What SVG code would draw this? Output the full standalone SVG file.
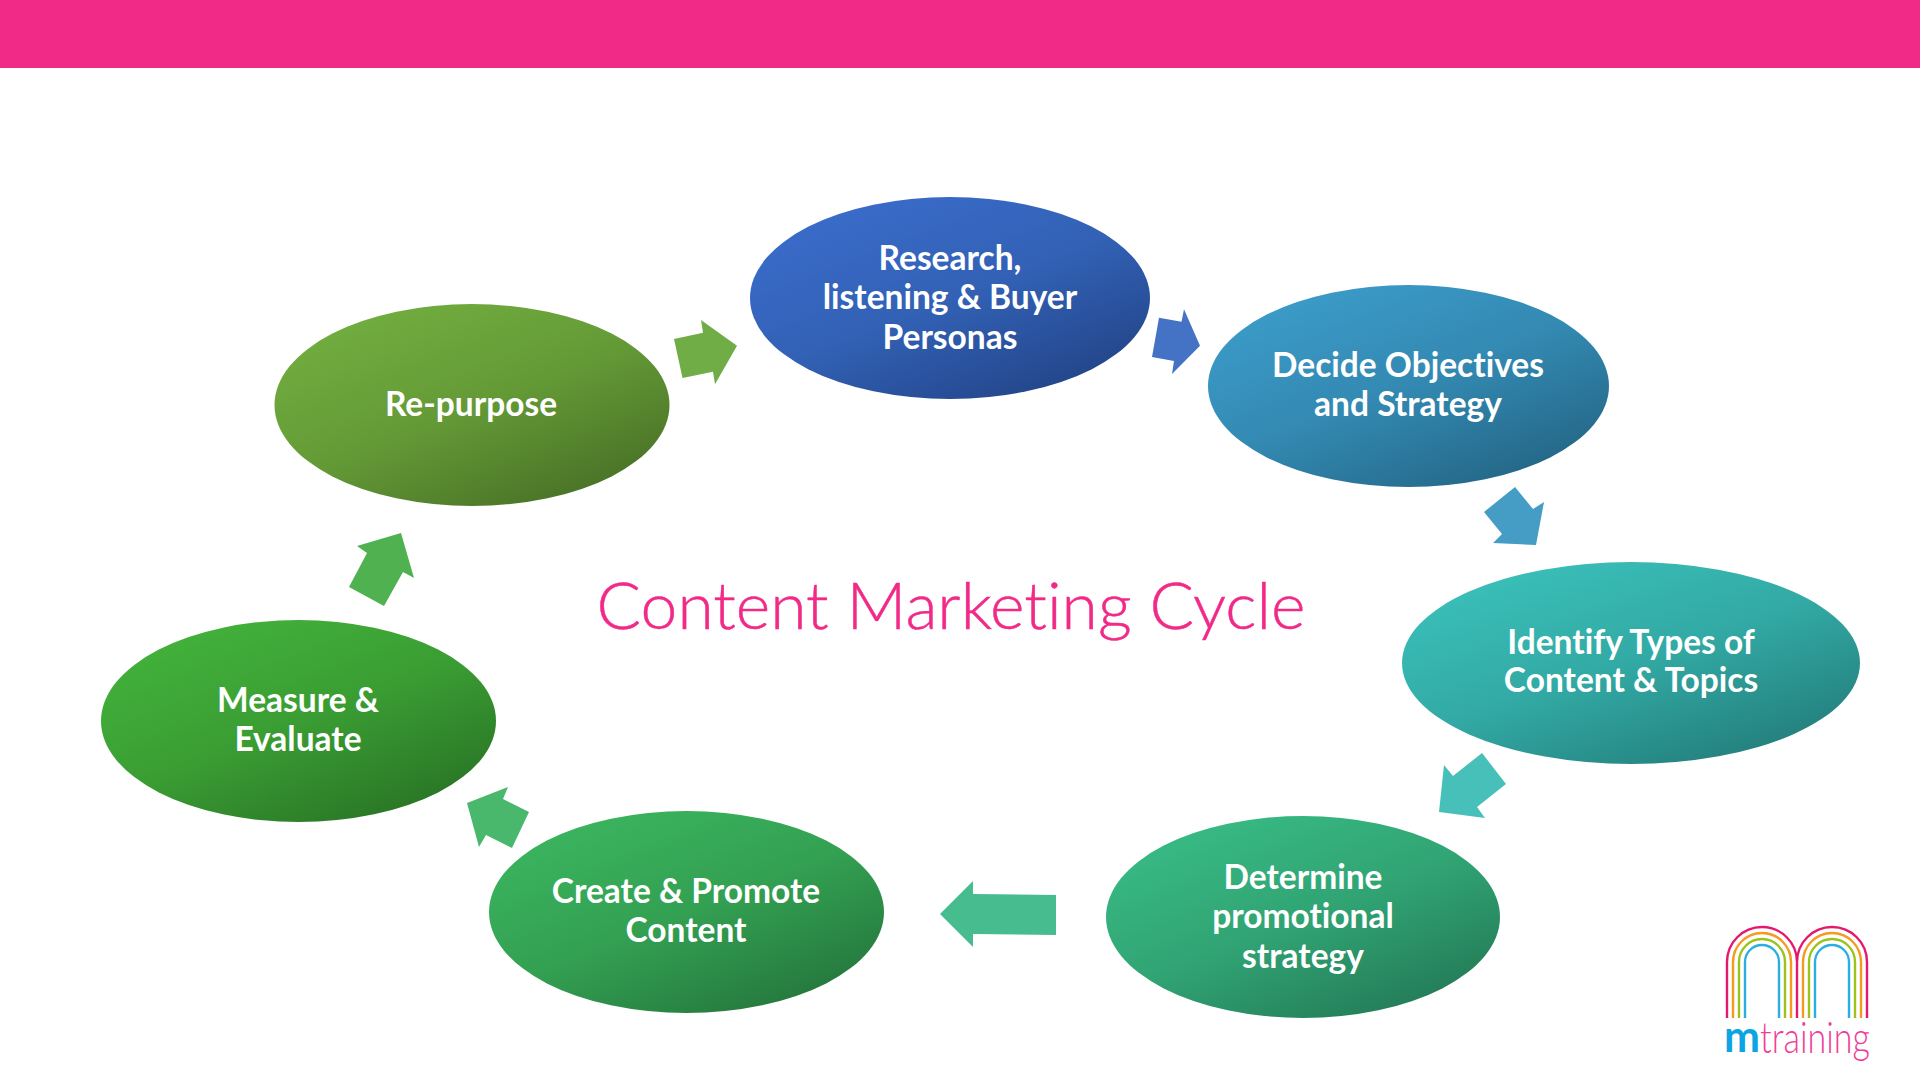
<svg xmlns="http://www.w3.org/2000/svg" width="1920" height="1080" viewBox="0 0 1920 1080">
<style>
.l{font-family:Lato,"Liberation Sans",sans-serif;font-weight:700;font-size:33.500px;fill:#fff;text-anchor:middle;font-variant-ligatures:none}
.a{fill:none;stroke-width:2.4}
</style>
<defs>
<linearGradient id="g1" x1="0.15" y1="0.05" x2="0.85" y2="0.95"><stop offset="0" stop-color="#3a6ccb"/><stop offset="0.5" stop-color="#3261b5"/><stop offset="1" stop-color="#224487"/></linearGradient>
<linearGradient id="g2" x1="0.15" y1="0.05" x2="0.85" y2="0.95"><stop offset="0" stop-color="#3c9cc9"/><stop offset="0.5" stop-color="#3389b2"/><stop offset="1" stop-color="#236584"/></linearGradient>
<linearGradient id="g3" x1="0.15" y1="0.05" x2="0.85" y2="0.95"><stop offset="0" stop-color="#3bc0ba"/><stop offset="0.5" stop-color="#32a9a4"/><stop offset="1" stop-color="#237d7a"/></linearGradient>
<linearGradient id="g4" x1="0.15" y1="0.05" x2="0.85" y2="0.95"><stop offset="0" stop-color="#38bb84"/><stop offset="0.5" stop-color="#31a474"/><stop offset="1" stop-color="#237a56"/></linearGradient>
<linearGradient id="g5" x1="0.15" y1="0.05" x2="0.85" y2="0.95"><stop offset="0" stop-color="#3bb55f"/><stop offset="0.5" stop-color="#33a052"/><stop offset="1" stop-color="#24763c"/></linearGradient>
<linearGradient id="g6" x1="0.15" y1="0.05" x2="0.85" y2="0.95"><stop offset="0" stop-color="#43b23b"/><stop offset="0.5" stop-color="#3a9d33"/><stop offset="1" stop-color="#297325"/></linearGradient>
<linearGradient id="g7" x1="0.15" y1="0.05" x2="0.85" y2="0.95"><stop offset="0" stop-color="#72ae40"/><stop offset="0.5" stop-color="#649a36"/><stop offset="1" stop-color="#487026"/></linearGradient>
</defs>
<rect id="banner" width="1920" height="68" fill="#f12a87"/>
<g id="connectors">
<polygon fill="#71ad47" points="674,339 703,332.700 701,320 737,345.700 715,384.300 713,371.700 682.500,378"/>
<polygon fill="#4472c4" points="1159,317.700 1181.500,321.700 1184,309.300 1200,345.700 1172,374 1174,361 1152,357"/>
<polygon fill="#459cc4" points="1515,487 1533,509 1544,502 1536,545 1493,543 1502,534 1484,512"/>
<polygon fill="#47c0ba" points="1482,753 1506,784 1477,807 1485,818 1439,812 1444,765 1453,776"/>
<polygon fill="#46bc8f" points="940,914 973,881 973,894 1056,895 1056,935 973,934 973,947"/>
<polygon fill="#49b86d" points="467,803 508,787 503,799 529,812 512,848 486,835 479,847"/>
<polygon fill="#4fb14f" points="357,546 401,533 414,578 403,572 384,606 349,587 367,553"/>
</g>
<g id="n1"><ellipse cx="950" cy="298" rx="200" ry="101" fill="url(#g1)"/>
<text class="l" x="950" y="270">Research,</text><text class="l" x="950" y="309">listening &amp; Buyer</text><text class="l" x="950" y="349">Personas</text></g>
<g id="n2"><ellipse cx="1408.500" cy="386" rx="200.500" ry="101" fill="url(#g2)"/>
<text class="l" x="1408" y="377">Decide Objectives</text><text class="l" x="1408" y="416">and Strategy</text></g>
<g id="n3"><ellipse cx="1631" cy="663" rx="229" ry="101" fill="url(#g3)"/>
<text class="l" x="1631" y="654">Identify Types of</text><text class="l" x="1631" y="692">Content &amp; Topics</text></g>
<g id="n4"><ellipse cx="1303" cy="917" rx="197" ry="101" fill="url(#g4)"/>
<text class="l" x="1303" y="889">Determine</text><text class="l" x="1303" y="928">promotional</text><text class="l" x="1303" y="968">strategy</text></g>
<g id="n5"><ellipse cx="686.500" cy="912" rx="197.500" ry="101" fill="url(#g5)"/>
<text class="l" x="686" y="903">Create &amp; Promote</text><text class="l" x="686" y="942">Content</text></g>
<g id="n6"><ellipse cx="298.500" cy="721" rx="197.500" ry="101" fill="url(#g6)"/>
<text class="l" x="298" y="712">Measure &amp;</text><text class="l" x="298" y="751">Evaluate</text></g>
<g id="n7"><ellipse cx="472" cy="405" rx="197.500" ry="101" fill="url(#g7)"/>
<text class="l" x="471" y="416">Re-purpose</text></g>
<text id="title" x="951" y="629" font-family="Lato,'Liberation Sans',sans-serif" font-weight="300" font-size="66" fill="#f12a87" stroke="#f12a87" stroke-width="0.5" text-anchor="middle" style="font-variant-ligatures:none">Content Marketing Cycle</text>
<g id="logo">
<path class="a" stroke="#e5186f" d="M1727 1018V962a35 35 0 0 1 70 0V1018M1797 1018V962a35 35 0 0 1 70 0V1018"/>
<path class="a" stroke="#f59a1e" d="M1733 1018V962a29 29 0 0 1 58 0V1018M1803 1018V962a29 29 0 0 1 58 0V1018"/>
<path class="a" stroke="#9bc31c" d="M1739 1018V962a23 23 0 0 1 46 0V1018M1809 1018V962a23 23 0 0 1 46 0V1018"/>
<path class="a" stroke="#2eaee0" d="M1745 1018V962a17 17 0 0 1 34 0V1018M1815 1018V962a17 17 0 0 1 34 0V1018"/>
<text x="1724" y="1052" font-family="Lato,sans-serif" font-weight="700" font-size="43" fill="#0da4e2">m</text>
<text x="1760" y="1053" font-family="Lato,sans-serif" font-weight="300" font-size="43" fill="#ee3f97" textLength="110" lengthAdjust="spacingAndGlyphs" style="font-variant-ligatures:none">training</text>
</g>
</svg>
